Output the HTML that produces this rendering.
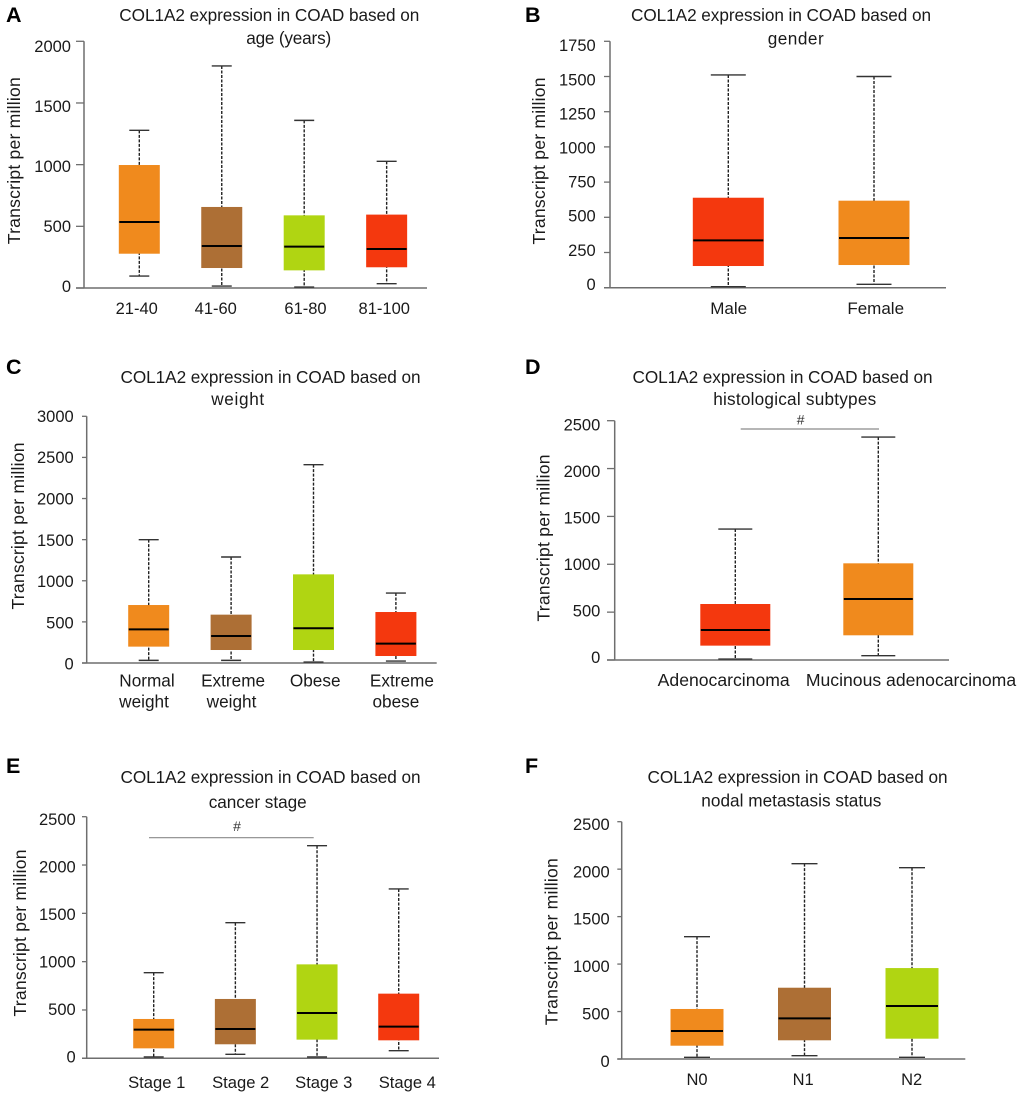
<!DOCTYPE html>
<html lang="en">
<head>
<meta charset="utf-8">
<title>COL1A2 expression in COAD</title>
<style>
html,body{margin:0;padding:0;background:#fff;}
svg{display:block;}
text{font-family:"Liberation Sans",Arial,sans-serif;fill:#1a1a1a;}
.title{font-size:17.2px;}
.ylab{font-size:17.6px;}
.tick,.xlab{font-size:16.5px;}
.letter{font-size:21.5px;font-weight:bold;fill:#000;}
.sig{stroke:#8a8a8a;stroke-width:1.2;}
.hash{font-size:14px;text-anchor:middle;fill:#333;}
</style>
</head>
<body>
<svg id="figure" width="1020" height="1096" viewBox="0 0 1020 1096" xmlns="http://www.w3.org/2000/svg">
<rect width="1020" height="1096" fill="#fff"/>

<g id="panel-a">
<text class="letter" x="6" y="22">A</text>
<text class="title" x="269.3" y="21" text-anchor="middle" textLength="300">COL1A2 expression in COAD based on</text>
<text class="title" x="288.7" y="44" text-anchor="middle" textLength="85">age (years)</text>
<text class="ylab" x="20" y="160.7" transform="rotate(-90 20 160.7)" text-anchor="middle" textLength="167">Transcript per million</text>
</g>

<g id="panel-b">
<text class="letter" x="525" y="22">B</text>
<text class="title" x="781" y="21" text-anchor="middle" textLength="300">COL1A2 expression in COAD based on</text>
<text class="title" x="795.7" y="44.5" text-anchor="middle" textLength="56">gender</text>
<text class="ylab" x="545" y="161" transform="rotate(-90 545 161)" text-anchor="middle" textLength="167">Transcript per million</text>
</g>

<g id="panel-c">
<text class="letter" x="6" y="374">C</text>
<text class="title" x="270.5" y="383" text-anchor="middle" textLength="300">COL1A2 expression in COAD based on</text>
<text class="title" x="237.7" y="405" text-anchor="middle" textLength="53">weight</text>
<text class="ylab" x="24" y="526" transform="rotate(-90 24 526)" text-anchor="middle" textLength="167">Transcript per million</text>
</g>

<g id="panel-d">
<text class="letter" x="525" y="374">D</text>
<text class="title" x="782.5" y="383" text-anchor="middle" textLength="300">COL1A2 expression in COAD based on</text>
<text class="title" x="794.7" y="405" text-anchor="middle" textLength="163">histological subtypes</text>
<text class="ylab" x="549.3" y="538" transform="rotate(-90 549.3 538)" text-anchor="middle" textLength="167">Transcript per million</text>
<line class="sig" x1="740.7" x2="879" y1="429" y2="429"/>
<text class="hash" x="800.7" y="424.5">#</text>
</g>

<g id="panel-e">
<text class="letter" x="6" y="773">E</text>
<text class="title" x="270.5" y="783" text-anchor="middle" textLength="300">COL1A2 expression in COAD based on</text>
<text class="title" x="257.7" y="808" text-anchor="middle" textLength="98">cancer stage</text>
<text class="ylab" x="26" y="933" transform="rotate(-90 26 933)" text-anchor="middle" textLength="167">Transcript per million</text>
<line class="sig" x1="149" x2="313.7" y1="837.7" y2="837.7"/>
<text class="hash" x="237" y="831">#</text>
</g>

<g id="panel-f">
<text class="letter" x="525" y="773">F</text>
<text class="title" x="797.5" y="783" text-anchor="middle" textLength="300">COL1A2 expression in COAD based on</text>
<text class="title" x="791.3" y="806.7" text-anchor="middle" textLength="180">nodal metastasis status</text>
<text class="ylab" x="557.7" y="941.7" transform="rotate(-90 557.7 941.7)" text-anchor="middle" textLength="167">Transcript per million</text>
</g>
</svg>

<script>
// ---- Panel A data ----
const aCategories = ['21-40', '41-60', '61-80', '81-100'];
const aTicks = [0, 500, 1000, 1500, 2000];
const aHigh = [1278, 1800, 1359, 1027];
const aQ3 = [997, 657, 589, 595];
const aMedian = [535, 341, 335, 316];
const aQ1 = [278, 162, 143, 168];
const aLow = [97, 16, 8, 35];

// ---- Panel B data ----
const bCategories = ['Male', 'Female'];
const bTicks = [0, 250, 500, 750, 1000, 1250, 1500, 1750];
const bHigh = [1511, 1500];
const bQ3 = [639, 618];
const bMedian = [336, 353];
const bQ1 = [154, 161];
const bLow = [7, 24];

// ---- Panel C data ----
const cCategories = ['Normal|weight', 'Extreme|weight', 'Obese', 'Extreme|obese'];
const cTicks = [0, 500, 1000, 1500, 2000, 2500, 3000];
const cHigh = [1500, 1289, 2412, 851];
const cQ3 = [705, 588, 1078, 620];
const cMedian = [409, 328, 422, 235];
const cQ1 = [199, 158, 158, 85];
const cLow = [32, 32, 12, 24];

// ---- Panel D data ----
const dCategories = ['Adenocarcinoma', 'Mucinous adenocarcinoma'];
const dTicks = [0, 500, 1000, 1500, 2000, 2500];
const dHigh = [1368, 2329];
const dQ3 = [585, 1010];
const dMedian = [313, 637];
const dQ1 = [150, 258];
const dLow = [10, 45];

// ---- Panel E data ----
const eCategories = ['Stage 1', 'Stage 2', 'Stage 3', 'Stage 4'];
const eTicks = [0, 500, 1000, 1500, 2000, 2500];
const eHigh = [886, 1403, 2200, 1752];
const eQ3 = [407, 614, 972, 669];
const eMedian = [297, 303, 469, 328];
const eQ1 = [103, 145, 193, 186];
const eLow = [14, 41, 14, 79];

// ---- Panel F data ----
const fCategories = ['N0', 'N1', 'N2'];
const fTicks = [0, 500, 1000, 1500, 2000, 2500];
const fHigh = [1289, 2058, 2015];
const fQ3 = [527, 751, 958];
const fMedian = [295, 428, 558];
const fQ1 = [140, 197, 214];
const fLow = [18, 35, 18];

// ---- Palette ----
const ORANGE = '#f08a1d', BROWN = '#ad6f35', GREEN = '#b0d512', RED = '#f4380e';

function svgEl(tag, attrs, parent) {
  const el = document.createElementNS('http://www.w3.org/2000/svg', tag);
  for (const k in attrs) el.setAttribute(k, attrs[k]);
  parent.appendChild(el);
  return el;
}

function drawPanel(panelId, layout, categories, ticks, high, q3, median, q1, low) {
  const host = document.getElementById(panelId);
  const maxV = ticks[ticks.length - 1];
  const yScale = v => layout.base - (v / maxV) * (layout.base - layout.top);
  const tickLabelY = v => layout.lblBase - (v / maxV) * (layout.lblBase - layout.lblTop) + 5.9;
  const xScale = i => layout.firstX + i * layout.stepX;

  // y axis
  const yAxis = svgEl('line', {x1: layout.axisX, x2: layout.axisX, y1: layout.top, y2: layout.base, stroke: '#6e6e6e', 'stroke-width': 1.5}, host);
  
  

  // x axis
  const xAxis = svgEl('line', {x1: layout.tickX, x2: layout.right, y1: layout.base, y2: layout.base, stroke: '#6e6e6e', 'stroke-width': 1.5}, host);
  
  

  // y ticks and labels
  ticks.forEach(t => {
    const tick = svgEl('line', {x1: layout.tickX, x2: layout.axisX, y1: yScale(t), y2: yScale(t), stroke: '#6e6e6e', 'stroke-width': 1.3}, host);
    
    

    const label = svgEl('text', {class: 'tick', x: layout.lblRight, y: tickLabelY(t), 'text-anchor': 'end'}, host);
    
    
    label.textContent = t;
  });

  // boxes
  categories.forEach((cat, i) => {
    const cx = xScale(i);
    const half = layout.boxW / 2, capHalf = layout.capW / 2;
    const color = layout.colors[i];

    const whisker = svgEl('line', {x1: cx, x2: cx, y1: yScale(high[i]), y2: yScale(low[i]), stroke: '#222', 'stroke-width': 1.4, 'stroke-dasharray': '3 1.5'}, host);
    
    

    const capHigh = svgEl('line', {x1: cx - capHalf, x2: cx + capHalf, y1: yScale(high[i]), y2: yScale(high[i]), stroke: '#333', 'stroke-width': 1.4}, host);
    
    

    const capLow = svgEl('line', {x1: cx - capHalf, x2: cx + capHalf, y1: yScale(low[i]), y2: yScale(low[i]), stroke: '#333', 'stroke-width': 1.4}, host);
    
    

    const box = svgEl('rect', {x: cx - half, y: yScale(q3[i]), width: layout.boxW, height: yScale(q1[i]) - yScale(q3[i]), fill: color}, host);
    
    

    const med = svgEl('line', {x1: cx - half + 0.5, x2: cx + half - 0.5, y1: yScale(median[i]), y2: yScale(median[i]), stroke: '#000', 'stroke-width': 2}, host);
    
    

    const lines = cat.split('|');
    lines.forEach((line, j) => {
      const dx = j === 0 ? layout.labelDx[i] : layout.labelDx2[i];
      const lab = svgEl('text', {class: 'xlab', x: cx + dx, y: layout.labelY + j * layout.labelLead, 'text-anchor': 'middle', 'font-size': layout.labelSize, style: 'font-size:' + layout.labelSize + 'px'}, host);
      
      
      lab.textContent = line;
    });
  });
}

drawPanel('panel-a', {axisX: 84, tickX: 76, top: 41.3, base: 288, right: 427, lblRight: 71, lblTop: 46, lblBase: 286,
  firstX: 139.3, stepX: 82.45, boxW: 41, capW: 20, labelY: 314, labelLead: 0, labelSize: 16.5,
  labelDx: [-2.6, -6, 1.3, -2.4], labelDx2: [0, 0, 0, 0], colors: [ORANGE, BROWN, GREEN, RED]},
  aCategories, aTicks, aHigh, aQ3, aMedian, aQ1, aLow);

drawPanel('panel-b', {axisX: 610, tickX: 604, top: 41.3, base: 287.7, right: 946, lblRight: 595.7, lblTop: 45.3, lblBase: 284,
  firstX: 728.3, stepX: 145.7, boxW: 71, capW: 35, labelY: 314, labelLead: 0, labelSize: 17,
  labelDx: [0.4, 1.7], labelDx2: [0, 0], colors: [RED, ORANGE]},
  bCategories, bTicks, bHigh, bQ3, bMedian, bQ1, bLow);

drawPanel('panel-c', {axisX: 86.7, tickX: 82, top: 416.3, base: 663, right: 436.7, lblRight: 73.7, lblTop: 416, lblBase: 663.7,
  firstX: 148.7, stepX: 82.4, boxW: 41, capW: 20, labelY: 686.7, labelLead: 20.8, labelSize: 17.2,
  labelDx: [-1.7, 2, 1.7, 6], labelDx2: [-4.7, 0.4, 0, 0], colors: [ORANGE, BROWN, GREEN, RED]},
  cCategories, cTicks, cHigh, cQ3, cMedian, cQ1, cLow);

drawPanel('panel-d', {axisX: 614.7, tickX: 607, top: 420.7, base: 660, right: 949, lblRight: 600.3, lblTop: 424.7, lblBase: 657,
  firstX: 735.3, stepX: 143, boxW: 70, capW: 34, labelY: 686, labelLead: 0, labelSize: 17.6,
  labelDx: [-11.6, 32.7], labelDx2: [0, 0], colors: [RED, ORANGE]},
  dCategories, dTicks, dHigh, dQ3, dMedian, dQ1, dLow);

drawPanel('panel-e', {axisX: 86.7, tickX: 82, top: 816.7, base: 1058.3, right: 439, lblRight: 75.7, lblTop: 819, lblBase: 1056.7,
  firstX: 153.7, stepX: 81.67, boxW: 41, capW: 20, labelY: 1088, labelLead: 0, labelSize: 16.6,
  labelDx: [3, 5.3, 6.7, 8.6], labelDx2: [0, 0, 0, 0], colors: [ORANGE, BROWN, GREEN, RED]},
  eCategories, eTicks, eHigh, eQ3, eMedian, eQ1, eLow);

drawPanel('panel-f', {axisX: 621.7, tickX: 617.3, top: 821.7, base: 1059, right: 965.3, lblRight: 609.7, lblTop: 824, lblBase: 1061,
  firstX: 697, stepX: 107.5, boxW: 53, capW: 26, labelY: 1085, labelLead: 0, labelSize: 16.5,
  labelDx: [0, -1.3, -0.3], labelDx2: [0, 0, 0], colors: [ORANGE, BROWN, GREEN]},
  fCategories, fTicks, fHigh, fQ3, fMedian, fQ1, fLow);
</script>
</body>
</html>
